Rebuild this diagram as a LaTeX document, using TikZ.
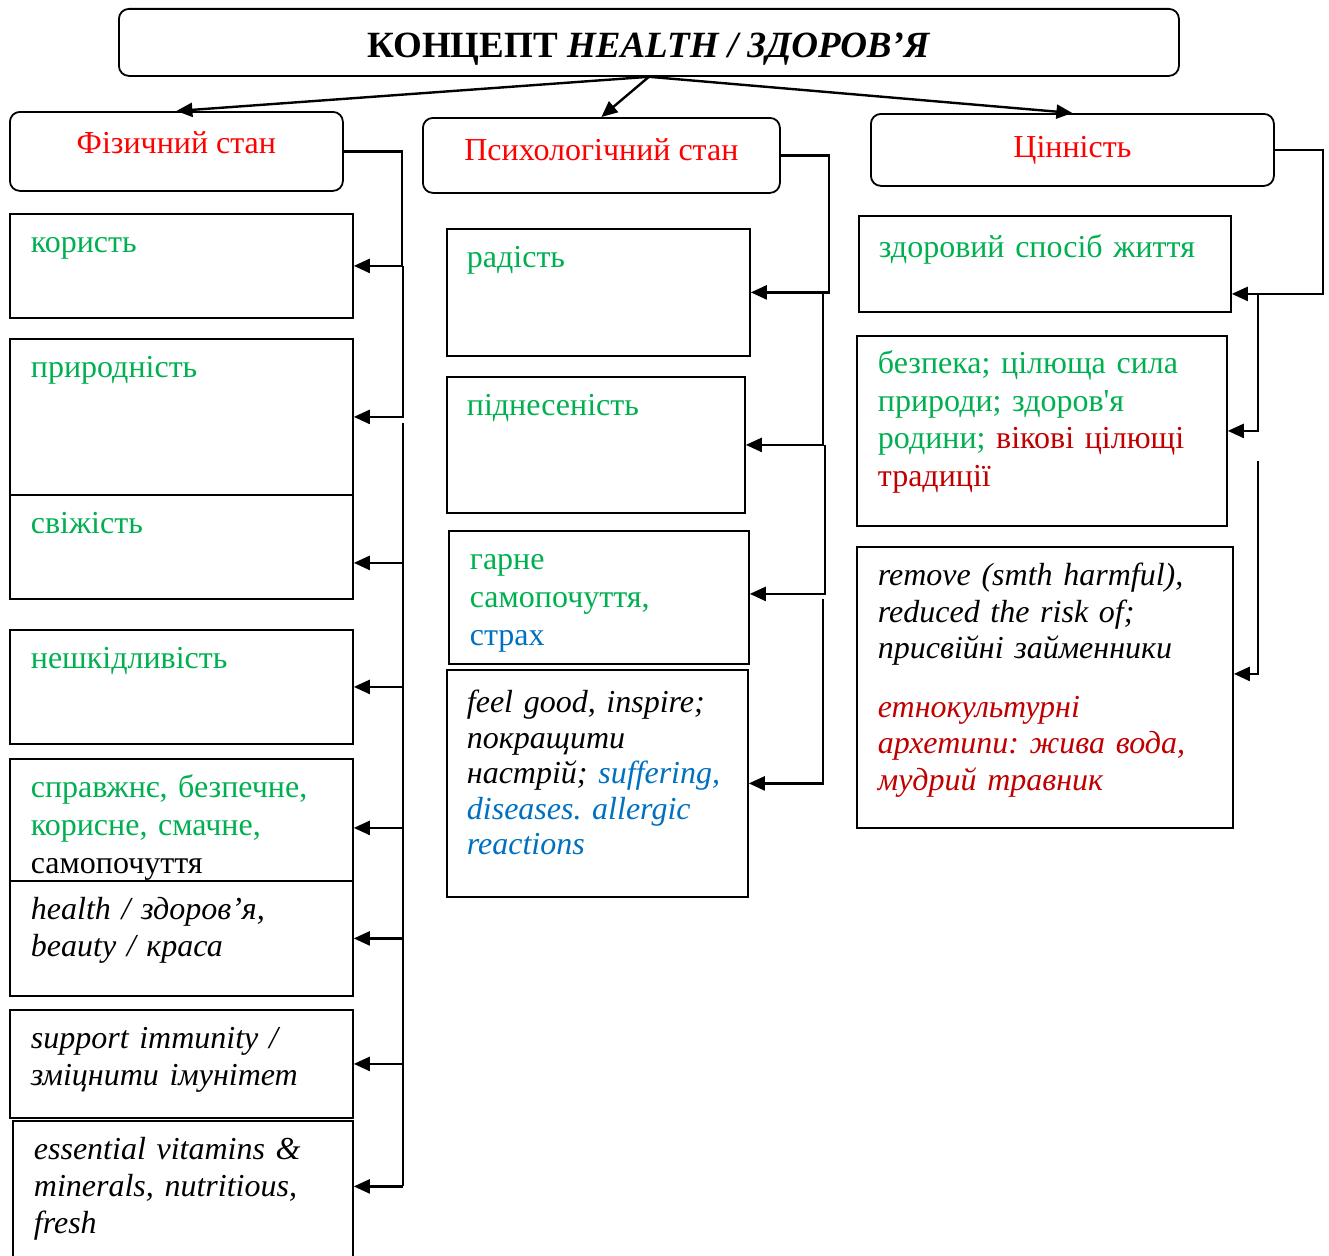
\documentclass[tikz,border=0pt]{standalone}
\usepackage{fontspec}
\setmainfont{Liberation Serif}
\frenchspacing
\usetikzlibrary{arrows.meta,positioning,calc}
\definecolor{healthgreen}{RGB}{0,176,80}
\definecolor{healthblue}{RGB}{0,112,192}
\definecolor{healthdred}{RGB}{192,0,0}

\begin{document}
\begin{tikzpicture}[x=1pt,y=-1pt,
  head/.style={draw, line width=1.8pt, rounded corners=10pt, anchor=north west,
    inner sep=0pt, font=\fontsize{32}{38}\selectfont, text=red},
  cell/.style={draw, line width=1.8pt, anchor=north west, align=left,
    inner xsep=21pt, inner ysep=0pt, text height=39pt},
  gtext/.style={font=\fontsize{32}{38}\selectfont, text=healthgreen},
  itext/.style={font=\fontsize{32}{37}\selectfont\itshape},
  bus/.style={line width=2.4pt},
  link/.style={line width=2.4pt, -{Triangle[length=16pt,width=14pt]}}]
  \useasboundingbox (0,0) rectangle (1329,1255);

  % headings
  \node[head, text=black, font=\fontsize{37}{44}\selectfont\bfseries,
    minimum width=1060pt, text height=49pt, text depth=18pt] (title) at (118,8)
    {КОНЦЕПТ \textit{HEALTH / ЗДОРОВ’Я}};
  \node[head, minimum width=333pt, text height=42pt, text depth=37pt] (phys) at (9,111) {Фізичний стан};
  \node[head, minimum width=357pt, text height=43pt, text depth=32pt] (psych) at (422,117) {Психологічний стан};
  \node[head, minimum width=403pt, text height=44pt, text depth=28pt] (value) at (870,113) {Цінність};

  \draw[link] (title.south) -- (phys.north);
  \draw[link] (title.south) -- (psych.north);
  \draw[link] (title.south) -- (value.north);

  % physical state
  \node[cell, gtext, text width=301pt, text depth=65pt] (kor) at (9,213) {користь};
  \node[cell, gtext, text width=301pt, text depth=117pt] (pryr) at (9,338) {природність};
  \node[cell, gtext, text width=301pt, text depth=65pt] (svizh) at (9,494) {свіжість};
  \node[cell, gtext, text width=301pt, text depth=75pt] (nesh) at (9,629) {нешкідливість};
  \node[cell, gtext, text width=301pt, text depth=83pt] (sprav) at (9,758)
    {справжнє, безпечне,\\ корисне, смачне,\\ \textcolor{black}{самопочуття}};
  \node[cell, itext, text width=301pt, text depth=76pt] (heal) at (9,880)
    {health / здоров’я,\\ beauty / краса};
  \node[cell, itext, text width=301pt, text depth=69pt] (supp) at (9,1009)
    {support immunity /\\ зміцнити імунітет};
  \node[cell, itext, text width=298pt, text depth=106pt] (ess) at (12,1120)
    {essential vitamins \&\\ minerals, nutritious,\\ fresh};

  \draw[link] (phys.east) -| ($(kor.east)+(48,0)$) -- (kor.east);
  \draw[link] ($(kor.east)+(49,0)$) |- (pryr.east);
  \draw[bus] ($(pryr.east)+(49,6)$) -- ($(ess.east)+(49,-7)$);
  \foreach \b/\d in {svizh/16, nesh/0, sprav/8, heal/0, supp/0, ess/-7}
    \draw[link] ($(\b.east)+(49,\d)$) -- ($(\b.east)+(0,\d)$);

  % psychological state
  \node[cell, gtext, inner xsep=20pt, text width=263pt, text depth=88pt] (rad) at (446,228) {радість};
  \node[cell, gtext, inner xsep=20pt, text width=258pt, text depth=97pt] (pidn) at (446,376) {піднесеність};
  \node[cell, gtext, text width=258pt, text depth=94pt] (harne) at (448,530)
    {гарне\\ самопочуття,\\ \textcolor{healthblue}{страх}};
  \node[cell, itext, font=\fontsize{32}{35.5}\selectfont\itshape, inner xsep=20pt,
    text width=261pt, text height=43pt, text depth=184pt] (feel) at (446,669)
    {feel good, inspire;\\ покращити\\ настрій; \textcolor{healthblue}{suffering,}\\
     \textcolor{healthblue}{diseases. allergic}\\ \textcolor{healthblue}{reactions}};

  \draw[link] (psych.east) -| ($(rad.east)+(78,0)$) -- (rad.east);
  \draw[link] ($(rad.east)+(72,0)$) |- (pidn.east);
  \draw[link] ($(pidn.east)+(79,0)$) |- ([yshift=3.5pt]harne.east);
  \draw[link] ($(harne.east)+(73,2)$) |- (feel.east);

  % value
  \node[cell, gtext, inner xsep=20pt, text width=332pt, text height=42pt, text depth=54pt] (zdor) at (858,215)
    {здоровий спосіб життя};
  \node[cell, gtext, font=\fontsize{32}{37.5}\selectfont, text width=328pt, text height=38pt, text depth=152pt] (bezp) at (856,335)
    {безпека; цілюща сила\\ природи; здоров\textquotesingle я\\ родини; \textcolor{healthdred}{вікові цілющі}\\ \textcolor{healthdred}{традиції}};
  \node[cell, itext, font=\fontsize{32}{36.5}\selectfont\itshape, text width=334pt, text depth=242pt] (remov) at (856,546)
    {remove (smth harmful),\\ reduced the risk of;\\ присвійні займенники\\[22pt]
     \textcolor{healthdred}{етнокультурні}\\ \textcolor{healthdred}{архетипи: жива вода,}\\ \textcolor{healthdred}{мудрий травник}};

  \draw[link] (value.east) -| ($(zdor.east)+(91,30)$) -- ($(zdor.east)+(0,30)$);
  \draw[link] ($(zdor.east)+(26,30)$) |- (bezp.east);
  \draw[link] ($(bezp.east)+(30,30)$) |- ([yshift=13.5pt]remov.east);
\end{tikzpicture}
\end{document}
